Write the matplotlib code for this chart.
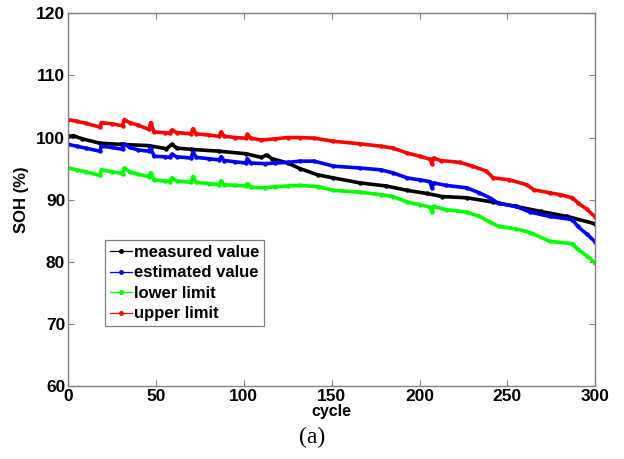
import matplotlib
matplotlib.use("Agg")
import matplotlib.pyplot as plt
from matplotlib.lines import Line2D

# ---- data ----
measured_c = [0, 3, 8, 18, 30, 46, 56, 59, 62, 70, 86, 101, 110, 113, 116, 125, 132, 142,
              151, 166, 181, 193, 204, 213, 227, 242, 255, 269, 284, 300]
measured_v = [100.2, 100.3, 99.8, 99.1, 98.9, 98.7, 98.2, 98.9, 98.3, 98.1, 97.8, 97.4, 96.8,
              97.2, 96.6, 95.9, 95.0, 94.0, 93.5, 92.7, 92.2, 91.5, 91.0, 90.5, 90.3, 89.6,
              88.9, 88.1, 87.3, 86.1]

estimated_c = [0, 5, 10, 18, 19, 25, 31, 32, 35, 40, 46, 47, 49, 55, 58, 59, 62, 70, 71, 73,
               80, 86, 87, 89, 95, 101, 102, 104, 112, 118, 125, 132, 140, 151, 166, 178, 185,
               193, 200, 206, 207, 208, 215, 227, 234, 240, 245, 255, 263, 274, 287, 290, 295, 300]
estimated_v = [98.9, 98.6, 98.3, 97.8, 98.6, 98.4, 98.1, 99.0, 98.4, 98.0, 97.8, 98.3, 97.0,
               96.9, 96.8, 97.3, 96.9, 96.7, 97.6, 96.8, 96.6, 96.4, 96.9, 96.3, 96.1, 95.9,
               96.6, 95.9, 95.8, 95.9, 96.0, 96.2, 96.2, 95.4, 95.1, 94.8, 94.3, 93.5, 93.2,
               92.9, 91.9, 92.7, 92.3, 91.9, 91.1, 90.3, 89.4, 88.9, 88.0, 87.3, 86.8, 85.7,
               84.5, 83.2]

lower_c = [0, 5, 10, 18, 19, 25, 31, 32, 35, 40, 46, 47, 49, 55, 58, 59, 62, 70, 71, 73,
           80, 86, 87, 89, 95, 101, 102, 104, 112, 118, 125, 132, 142, 151, 166, 178, 185,
           193, 200, 206, 207, 208, 215, 227, 234, 240, 245, 255, 263, 274, 287, 290, 295, 300]
lower_v = [95.1, 94.8, 94.5, 93.9, 94.8, 94.5, 94.2, 95.1, 94.5, 94.1, 93.7, 94.3, 93.2,
           93.0, 92.9, 93.5, 93.0, 92.8, 93.7, 92.8, 92.6, 92.4, 93.0, 92.4, 92.3, 92.2,
           92.6, 92.0, 91.9, 92.1, 92.2, 92.3, 92.1, 91.5, 91.2, 90.8, 90.5, 89.6, 89.2,
           88.8, 88.0, 88.9, 88.4, 88.0, 87.3, 86.4, 85.7, 85.3, 84.7, 83.3, 82.9, 82.0,
           81.0, 79.8]

upper_c = [0, 5, 10, 18, 19, 25, 31, 32, 35, 40, 46, 47, 49, 55, 58, 59, 62, 70, 71, 73,
           80, 86, 87, 89, 95, 101, 102, 104, 110, 118, 125, 132, 140, 151, 166, 178, 185,
           193, 200, 206, 207, 208, 212, 223, 230, 238, 242, 251, 261, 265, 274, 280, 287,
           290, 295, 300]
upper_v = [102.9, 102.6, 102.3, 101.7, 102.4, 102.2, 101.9, 102.9, 102.4, 102.0, 101.3,
           102.4, 100.9, 100.8, 100.7, 101.2, 100.8, 100.6, 101.4, 100.6, 100.4, 100.2,
           100.9, 100.2, 100.0, 99.9, 100.5, 99.9, 99.6, 99.8, 100.0, 100.0, 99.9, 99.4,
           99.0, 98.6, 98.3, 97.5, 97.0, 96.5, 95.8, 96.7, 96.3, 96.0, 95.4, 94.6, 93.5,
           93.2, 92.4, 91.6, 91.1, 90.8, 90.3, 89.5, 88.5, 87.2]

labels = ["measured value", "estimated value", "lower limit", "upper limit"]
colors = ["#000000", "#0000FF", "#00FF00", "#FF0000"]
x_ticks = [0, 50, 100, 150, 200, 250, 300]
y_ticks = [60, 70, 80, 90, 100, 110, 120]

plt.rcParams["font.family"] = ["Liberation Sans", "DejaVu Sans"]

fig = plt.figure(figsize=(6.24, 4.59), dpi=100)
ax = fig.add_axes([0.109, 0.159, 0.845, 0.812])

series = [(measured_c, measured_v), (estimated_c, estimated_v),
          (lower_c, lower_v), (upper_c, upper_v)]
for (c, v), col in zip(series, colors):
    ax.plot(c, v, color=col, lw=2.6, marker="o", ms=2.2, solid_joinstyle="round")

ax.set_xlim(0, 300)
ax.set_ylim(60, 120)
ax.set_xticks(x_ticks)
ax.set_yticks(y_ticks)
ax.tick_params(direction="in", top=True, right=True, length=4, width=0.8,
               color="#808080", labelsize=12.5, pad=2)
for lab in ax.get_xticklabels() + ax.get_yticklabels():
    lab.set_fontweight("bold")
for s in ax.spines.values():
    s.set_color("#808080")
    s.set_linewidth(1.0)

ax.set_xlabel("cycle", fontsize=11.5, fontweight="bold", labelpad=0)
ax.set_ylabel("SOH (%)", fontsize=12, fontweight="bold", labelpad=5)

handles = [Line2D([], [], color=col, lw=0.9, marker="o", ms=2.5) for col in colors]
leg = ax.legend(handles, labels, loc="lower left", bbox_to_anchor=(0.070, 0.160),
                borderaxespad=0, fancybox=False, framealpha=1, edgecolor="#808080",
                prop={"size": 12, "weight": "bold"}, handlelength=1.3, handletextpad=0.15,
                labelspacing=0.33, borderpad=0.3)
leg.get_frame().set_linewidth(0.9)

fig.text(0.5, 0.048, "(a)", ha="center", va="center", fontsize=17,
         family=["Liberation Serif", "DejaVu Serif"])

fig.savefig("out.png", dpi=100)
